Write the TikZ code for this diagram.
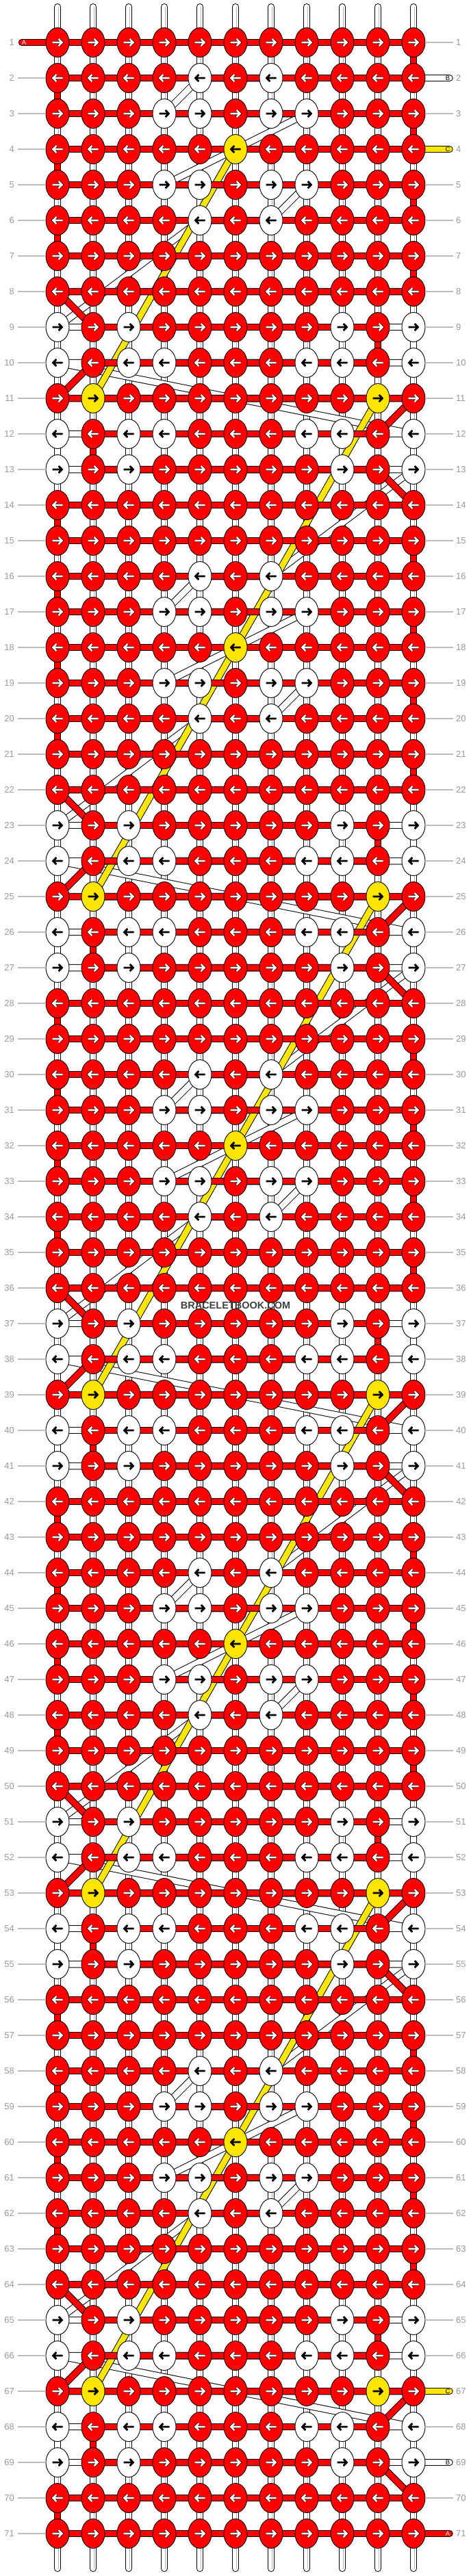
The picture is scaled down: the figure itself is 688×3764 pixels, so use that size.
\documentclass[tikz,border=0pt]{standalone}
\usepackage{fontspec}
\setmainfont{Liberation Sans}
\usetikzlibrary{shapes.geometric}
\definecolor{kred}{RGB}{255,0,0}
\definecolor{kyel}{RGB}{255,230,0}
\definecolor{lblgray}{RGB}{153,153,153}
\definecolor{linegray}{RGB}{190,190,190}
\definecolor{tubegray}{RGB}{180,180,180}
\definecolor{wmgray}{RGB}{64,64,64}

% knot colour pattern, period of 14 rows (0 red, 1 white, 2 yellow)
\expandafter\def\csname pat1\endcsname{0,0,0,0,0,0,0,0,0,0,0}
\expandafter\def\csname pat2\endcsname{0,0,0,0,1,0,1,0,0,0,0}
\expandafter\def\csname pat3\endcsname{0,0,0,1,1,0,1,1,0,0,0}
\expandafter\def\csname pat4\endcsname{0,0,0,0,0,2,0,0,0,0,0}
\expandafter\def\csname pat5\endcsname{0,0,0,1,1,0,1,1,0,0,0}
\expandafter\def\csname pat6\endcsname{0,0,0,0,1,0,1,0,0,0,0}
\expandafter\def\csname pat7\endcsname{0,0,0,0,0,0,0,0,0,0,0}
\expandafter\def\csname pat8\endcsname{0,0,0,0,0,0,0,0,0,0,0}
\expandafter\def\csname pat9\endcsname{1,0,1,0,0,0,0,0,1,0,1}
\expandafter\def\csname pat10\endcsname{1,0,1,1,0,0,0,1,1,0,1}
\expandafter\def\csname pat11\endcsname{0,2,0,0,0,0,0,0,0,2,0}
\expandafter\def\csname pat12\endcsname{1,0,1,1,0,0,0,1,1,0,1}
\expandafter\def\csname pat13\endcsname{1,0,1,0,0,0,0,0,1,0,1}
\expandafter\def\csname pat14\endcsname{0,0,0,0,0,0,0,0,0,0,0}

% string paths: row/first/last/rows to next/first of next
\def\Atuples{1/1/11/1/11,2/11/1/1/1,3/1/11/1/11,4/11/1/1/1,5/1/11/1/11,6/11/1/1/1,7/1/11/1/11,8/11/1/1/2,9/2/10/1/10,10/10/2/1/1,11/1/11/1/10,12/10/2/1/2,13/2/10/1/11,14/11/1/1/1}
\def\Btuples{2/7/5/1/4,3/4/8/2/4,5/4/8/1/7,6/7/5/3/1,9/1/11/1/11,10/11/1/2/11,12/11/1/1/1,13/1/11/3/7}
\def\Ctuples{4/6/6/7/2,11/2/10/7/6}

\newcommand\stringpath[5]{%
  \draw[#1] (#2) -- (#3);
  \foreach \kk in {0,...,5}{%
    \foreach \pp/\fa/\la/\dnn/\nf in #4{%
      \pgfmathtruncatemacro\rr{\pp+14*\kk}%
      \pgfmathtruncatemacro\rn{\rr+\dnn}%
      \ifnum\rr<72
        \ifnum\rn<72
          \draw[#1] (p\rr-\fa) -- (p\rr-\la) -- (p\rn-\nf);
        \else
          \draw[#1] (p\rr-\fa) -- (p\rr-\la) -- (#5);
        \fi
      \fi
    }%
  }%
}

\newcommand\drawknot[3]{%
  \ifcase#3\relax
    \node[knotR] (k#1-#2) at (p#1-#2) {};
  \or
    \node[knotW] (k#1-#2) at (p#1-#2) {};
  \else
    \node[knotY] (k#1-#2) at (p#1-#2) {};
  \fi
  \ifnum#3=0\relax
    \ifodd#1\relax
      \draw[arrowout] (k#1-#2.center) ++(-7.5,0) -- ++(14,0) ++(-4.8,-5) -- ++(4.8,5) -- ++(-4.8,5);
      \draw[arrowwhite] (k#1-#2.center) ++(-7.5,0) -- ++(14,0) ++(-4.8,-5) -- ++(4.8,5) -- ++(-4.8,5);
    \else
      \draw[arrowout] (k#1-#2.center) ++(7.5,0) -- ++(-14,0) ++(4.8,-5) -- ++(-4.8,5) -- ++(4.8,5);
      \draw[arrowwhite] (k#1-#2.center) ++(7.5,0) -- ++(-14,0) ++(4.8,-5) -- ++(-4.8,5) -- ++(4.8,5);
    \fi
  \else
    \ifodd#1\relax
      \draw[arrowblack] (k#1-#2.center) ++(-7.5,0) -- ++(14,0) ++(-4.8,-5) -- ++(4.8,5) -- ++(-4.8,5);
    \else
      \draw[arrowblack] (k#1-#2.center) ++(7.5,0) -- ++(-14,0) ++(4.8,-5) -- ++(-4.8,5) -- ++(4.8,5);
    \fi
  \fi
}

\begin{document}
\begin{tikzpicture}[x=1pt,y=-1pt,
  knot/.style={ellipse, draw=black, line width=0.9pt, minimum width=34pt, minimum height=43pt, inner sep=0pt, outer sep=0pt},
  knotR/.style={knot, fill=kred},
  knotW/.style={knot, fill=white},
  knotY/.style={knot, fill=kyel},
  bandout/.style={draw=black, line width=10.5pt, line cap=round, line join=round},
  bandA/.style={draw=kred, line width=8.5pt, line cap=round, line join=round},
  bandB/.style={draw=white, line width=8.5pt, line cap=round, line join=round},
  bandC/.style={draw=kyel, line width=8.5pt, line cap=round, line join=round},
  tubeout/.style={draw=black, line width=10pt, line cap=round},
  tubein/.style={draw=white, line width=8pt, line cap=round},
  tubeline/.style={draw=tubegray, line width=0.9pt},
  arrowout/.style={draw=black, line width=4pt, line join=miter, line cap=butt},
  arrowwhite/.style={draw=white, line width=2.6pt, line join=miter, line cap=butt},
  arrowblack/.style={draw=black, line width=2.8pt, line join=miter, line cap=butt},
  lbl/.style={text=lblgray, font=\fontsize{13}{13}\selectfont, inner sep=0pt},
  rowline/.style={draw=linegray, line width=1.2pt},
  stubtxt/.style={font=\fontsize{9.5}{9.5}\selectfont, inner sep=0pt},
  wmark/.style={text=wmgray, font=\bfseries\fontsize{14.5}{14.5}\selectfont, inner sep=0pt}
]
\useasboundingbox (0,0) rectangle (688,3764);
\fill[white] (0,0) rectangle (688,3764);

% knot positions
\foreach \rr in {1,...,71}{
  \foreach \cc in {1,...,11}{
    \coordinate (p\rr-\cc) at ({32+52*\cc},{10+52*\rr});
  }
}
\coordinate (Astart) at (32,62);
\coordinate (Aend) at (656.5,3702);
\coordinate (Bstart) at (656.5,114);
\coordinate (Bend) at (656.5,3598);
\coordinate (Cstart) at (656.5,218);
\coordinate (Cend) at (656.5,3494);

% base strings (tubes)
\foreach \cc in {1,...,11}{
  \coordinate (tt\cc) at ({32+52*\cc},10);
  \coordinate (tb\cc) at ({32+52*\cc},3753);
  \draw[tubeout] (tt\cc) -- (tb\cc);
  \draw[tubein] (tt\cc) -- (tb\cc);
  \draw[tubeline] ([xshift=1.5pt]tt\cc) -- ([xshift=1.5pt]tb\cc);
}

% working strings B (white), C (yellow), A (red)
\stringpath{bandout}{Bstart}{p2-7}{\Btuples}{Bend}
\stringpath{bandB}{Bstart}{p2-7}{\Btuples}{Bend}
\stringpath{bandout}{Cstart}{p4-6}{\Ctuples}{Cend}
\stringpath{bandC}{Cstart}{p4-6}{\Ctuples}{Cend}
\stringpath{bandout}{Astart}{p1-1}{\Atuples}{Aend}
\stringpath{bandA}{Astart}{p1-1}{\Atuples}{Aend}

% knots
\foreach \kk in {0,...,5}{
  \foreach \pp in {1,...,14}{
    \pgfmathtruncatemacro\rr{\pp+14*\kk}
    \ifnum\rr<72
      \edef\curpat{\csname pat\pp\endcsname}
      \foreach \code [count=\cc] in \curpat {\drawknot{\rr}{\cc}{\code}}
    \fi
  }
}

% row numbers
\foreach \rr in {1,...,71}{
  \node[lbl, anchor=east] (ll\rr) at (21,{10+52*\rr}) {\rr};
  \node[lbl, anchor=west] (lr\rr) at (666,{10+52*\rr}) {\rr};
}
\foreach \rr in {2,...,71}{
  \draw[rowline] ([xshift=5pt]ll\rr.east) -- (k\rr-1.west);
}
\foreach \rr in {1,3,5,6,...,66,68,70}{
  \draw[rowline] ([xshift=-4pt]lr\rr.west) -- (k\rr-11.east);
}

% string letters
\node[stubtxt, text=white] (sA1) at (35,62) {A};
\node[stubtxt, text=black] (sB1) at (654,114) {B};
\node[stubtxt, text=black] (sC1) at (654,218) {C};
\node[stubtxt, text=black] (sC2) at (654,3494) {C};
\node[stubtxt, text=black] (sB2) at (654,3598) {B};
\node[stubtxt, text=white] (sA2) at (654,3702) {A};

% watermark
\node[wmark] (wm) at (344,1907) {BRACELETBOOK.COM};
\end{tikzpicture}
\end{document}
